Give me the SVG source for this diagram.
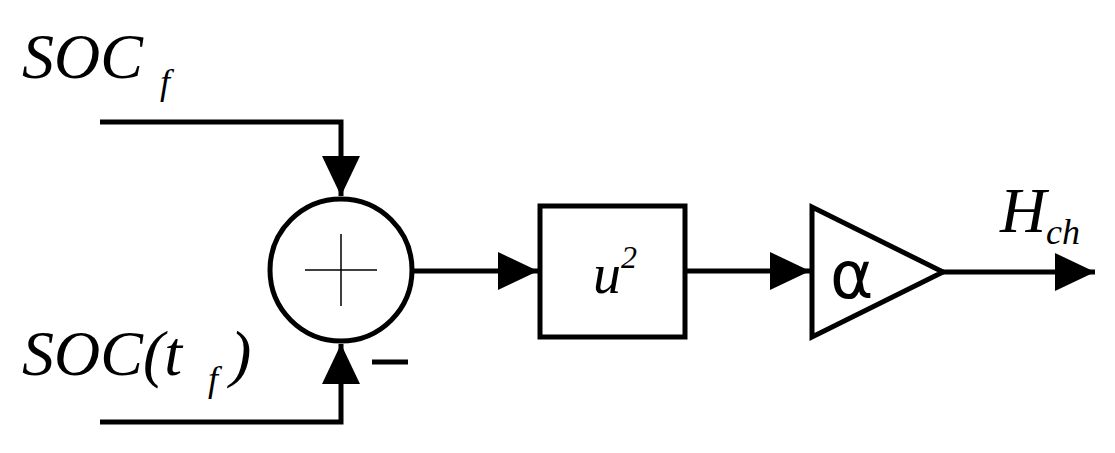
<svg xmlns="http://www.w3.org/2000/svg" width="1115" height="453" viewBox="0 0 1115 453">
<style>
.l{fill:none;stroke:#000;stroke-width:5}
.t{font-family:"Liberation Serif",serif;font-style:italic;font-size:64px;fill:#000}
.s{font-family:"Liberation Serif",serif;font-style:italic;font-size:36px;fill:#000}
</style>
<defs><marker id="a" markerUnits="userSpaceOnUse" markerWidth="42" markerHeight="40" refX="40" refY="19" orient="auto"><path d="M0,0 L40,19 L0,38 Z" fill="#000"/></marker></defs>
<rect width="1115" height="453" fill="#fff"/>
<g id="connectors">
<path class="l" d="M100,122 H341 V196" marker-end="url(#a)"/>
<path class="l" d="M100,422 H341 V344" marker-end="url(#a)"/>
<path class="l" d="M413,271 H538" marker-end="url(#a)"/>
<path class="l" d="M685,271 H810" marker-end="url(#a)"/>
<path class="l" d="M943,272 H1095" marker-end="url(#a)"/>
</g>
<g id="sum">
<circle class="l" cx="341" cy="270" r="71"/>
<path d="M305,270 H377 M341,234 V306" stroke="#000" stroke-width="1.5"/>
<path d="M372,362 H408" stroke="#000" stroke-width="5"/>
</g>
<g id="square"><rect class="l" x="540" y="206" width="145" height="131"/>
<text class="t" x="593" y="293" style="font-size:56px">u</text><text x="621" y="268" style="font-family:'Liberation Serif',serif;font-style:italic;font-size:32px">2</text></g>
<g id="gain"><path class="l" d="M812,207 L812,337 L943,272 Z"/>
<text x="830" y="298" style="font-family:'DejaVu Sans',sans-serif;font-size:66px">α</text></g>
<g id="labels">
<text class="t" x="22" y="78">SOC</text><text class="s" x="160" y="94">f</text>
<text class="t" x="22" y="375">SOC(t</text><text class="s" x="208" y="391">f</text><text class="t" x="230" y="375">)</text>
<text class="t" x="1000" y="232">H</text><text class="s" x="1046" y="244">ch</text>
</g>
</svg>
